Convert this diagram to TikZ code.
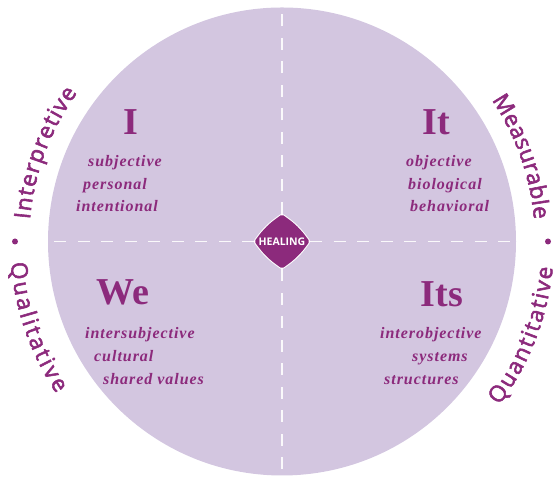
\documentclass[tikz,border=0pt]{standalone}
\usepackage{fontspec}
\setmainfont{Liberation Serif}
\newfontfamily\arcfont{Open Sans}[FakeBold=2.5]
\newfontfamily\itemfont{Liberation Serif}[LetterSpace=6]
\newfontfamily\healfont{Open Sans}
\usetikzlibrary{decorations.text}
\definecolor{disc}{HTML}{D3C6E0}
\definecolor{purp}{HTML}{8C2A7C}
\tikzset{
  header/.style={text=purp, anchor=base, inner sep=0pt, font=\bfseries\fontsize{38}{38}\selectfont},
  item/.style={text=purp, anchor=base west, inner sep=0pt, font=\itemfont\bfseries\itshape\fontsize{16}{16}\selectfont},
  dashline/.style={draw=white, line width=1.3pt, dash pattern=on 12pt off 11.5pt, opacity=0.9},
  dotmark/.style={circle, fill=purp, inner sep=0pt, minimum size=6pt},
  arctext/.style={decorate, decoration={text along path, text color=purp, text align={fit to path}, text={|\arcfont\fontsize{22.5}{22.5}\selectfont|#1}}}
}
\begin{document}
\begin{tikzpicture}[x=1pt,y=1pt]
\useasboundingbox (0,0) rectangle (558,478);
\coordinate (C) at (282,236.5);
\fill[disc] (C) circle (234);
% diamond tips and line ends
\coordinate (DT) at (282,263.5);
\coordinate (DB) at (282,208.5);
\coordinate (DL) at (254,236.5);
\coordinate (DR) at (310,236.5);
\coordinate (ET) at (282,468);
\coordinate (EB) at (282,4);
\coordinate (EL) at (50,236.5);
\coordinate (ER) at (514,236.5);
\draw[dashline] (DT) -- (ET);
\draw[dashline] (DB) -- (EB);
\draw[dashline] (DL) -- (EL);
\draw[dashline] (DR) -- (ER);
% diamond
\coordinate (PT) at (282,260.5);
\coordinate (PB) at (282,212.5);
\coordinate (PL) at (257.5,236.5);
\coordinate (PR) at (306.5,236.5);
\draw[white, line width=7pt, line join=round] (PT) to[bend left=10] (PR) to[bend left=10] (PB) to[bend left=10] (PL) to[bend left=10] cycle;
\filldraw[purp, line width=5pt, line join=round] (PT) to[bend left=10] (PR) to[bend left=10] (PB) to[bend left=10] (PL) to[bend left=10] cycle;
\node[text=white, font=\healfont\bfseries\fontsize{10.5}{11}\selectfont, inner sep=0pt] (heal) at (C) {HEALING};
% quadrant headers
\node[header] (hI) at (131,343) {I};
\node[header] (hIt) at (436,343) {It};
\node[header] (hWe) at (123,173) {We};
\node[header] (hIts) at (442,171) {Its};
% items
\node[item] (i1) at (88,311) {subjective};
\node[item] (i2) at (83,288) {personal};
\node[item] (i3) at (76,266) {intentional};
\node[item] (t1) at (406,311) {objective};
\node[item] (t2) at (408,288) {biological};
\node[item] (t3) at (410,266) {behavioral};
\node[item] (w1) at (85,139) {intersubjective};
\node[item] (w2) at (94,116) {cultural};
\node[item] (w3) at (103,93) {shared values};
\node[item] (s1) at (380,139) {interobjective};
\node[item] (s2) at (412,116) {systems};
\node[item] (s3) at (384,93) {structures};
% arc texts
\path[shift={(C)}, arctext=Interpretive] (175:253) arc[start angle=175, end angle=144, radius=253];
\path[shift={(C)}, arctext=Qualitative] (184.5:272) arc[start angle=184.5, end angle=214, radius=272];
\path[shift={(C)}, arctext=Measurable] (34:253) arc[start angle=34, end angle=5, radius=253];
\path[shift={(C)}, arctext=Quantitative] (-37:272) arc[start angle=-37, end angle=-5.5, radius=272];
\node[dotmark] (bl) at (15,236.5) {};
\node[dotmark] (br) at (548,236.5) {};
\end{tikzpicture}
\end{document}
